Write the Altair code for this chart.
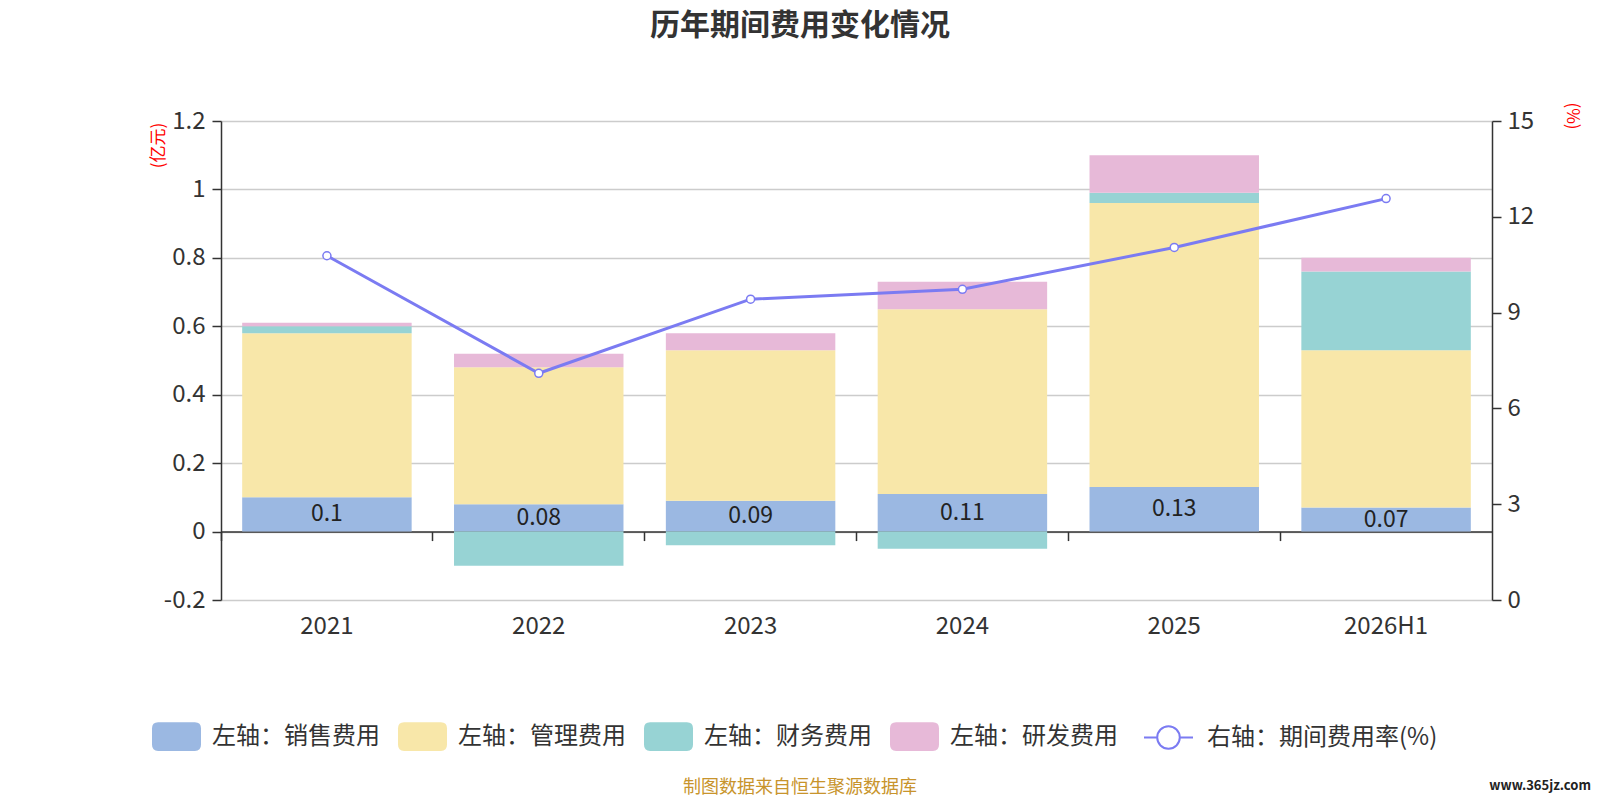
import altair as alt
import pandas as pd

# ---- data ----
years = ["2021", "2022", "2023", "2024", "2025", "2026H1"]
sales = [0.10, 0.08, 0.09, 0.11, 0.13, 0.07]      # 销售费用 (亿元)
mgmt = [0.48, 0.40, 0.44, 0.54, 0.83, 0.46]       # 管理费用
fin = [0.02, -0.10, -0.04, -0.05, 0.03, 0.23]     # 财务费用
rnd = [0.01, 0.04, 0.05, 0.08, 0.11, 0.04]        # 研发费用
rate = [10.78, 7.10, 9.42, 9.73, 11.04, 12.57]    # 期间费用率 (%)

series_names = ["左轴：销售费用", "左轴：管理费用", "左轴：财务费用", "左轴：研发费用"]
series_colors = ["#9BB8E2", "#F8E7A9", "#97D3D4", "#E7B9D8"]
line_name = "右轴：期间费用率(%)"
line_color = "#7B7BF2"

left_ticks = [-0.2, 0, 0.2, 0.4, 0.6, 0.8, 1.0, 1.2]
right_ticks = [0, 3, 6, 9, 12, 15]

title_text = "历年期间费用变化情况"
footer_text = "制图数据来自恒生聚源数据库"
watermark_text = "www.365jz.com"

FONT = "Noto Sans CJK SC"
W, H = 1271, 479
ZERO_OFFSET = -(H - H * 1.2 / 1.4)

rows = []
for i, y in enumerate(years):
    for k, vals in enumerate([sales, mgmt, fin, rnd]):
        rows.append({"year": y, "series": series_names[k], "v": vals[i], "ord": k})
bars_df = pd.DataFrame(rows)
sales_df = pd.DataFrame({"year": years, "v": sales})
line_df = pd.DataFrame({"year": years, "rate": rate, "s": [line_name] * len(years)})

rect_path = ("M-0.75,-0.583 L0.75,-0.583 Q1,-0.583 1,-0.333 L1,0.333 Q1,0.583 0.75,0.583 "
             "L-0.75,0.583 Q-1,0.583 -1,0.333 L-1,-0.333 Q-1,-0.583 -0.75,-0.583 Z")
line_path = ("M-1,0 L-0.46,0 M0.46,0 L1,0 M-0.46,0 A0.46,0.46 0 1,1 0.46,0 "
             "A0.46,0.46 0 1,1 -0.46,0 Z")

xscale = alt.Scale(paddingInner=0, paddingOuter=0)
yleft = alt.Scale(domain=[-0.2, 1.2], nice=False, zero=False)
yright = alt.Scale(domain=[0, 15], nice=False, zero=False)

bars = alt.Chart(bars_df).mark_bar(width=alt.RelativeBandSize(0.8)).encode(
    x=alt.X("year:N", sort=years, scale=xscale,
            axis=alt.Axis(title=None, domain=False, ticks=False, grid=False, labelAngle=0,
                          labelFontSize=24, labelColor="#333", labelPadding=14)),
    y=alt.Y("v:Q", stack="zero", scale=yleft,
            axis=alt.Axis(values=left_ticks, title="(亿元)",
                          labelExpr="replace(format(datum.value, '.1~f'), '\u2212', '-')",
                          labelFontSize=24, labelColor="#333", labelPadding=7,
                          grid=True, gridColor="#cccccc", gridWidth=1.5,
                          domainColor="#333", domainWidth=1.5, tickColor="#333",
                          tickSize=9, tickWidth=1.5,
                          titleColor="red", titleFontSize=17, titleFontWeight="normal",
                          titleAngle=270, titleX=-62.5, titleY=24, titleAlign="center",
                          titleBaseline="middle")),
    fill=alt.Fill("series:N", sort=series_names,
                  scale=alt.Scale(domain=series_names, range=series_colors),
                  legend=alt.Legend(title=None, orient="none", legendX=-69, legendY=591,
                                    direction="horizontal", columns=4, symbolType=rect_path,
                                    symbolSize=2401, symbolStrokeWidth=0,
                                    labelFontSize=24, labelColor="#333", labelOffset=11,
                                    columnPadding=18, labelLimit=300)),
    order=alt.Order("ord:Q"),
)

labels = alt.Chart(sales_df).transform_calculate(mid="datum.v / 2").mark_text(
    fontSize=23, color="#222", baseline="middle", align="center"
).encode(
    x=alt.X("year:N", sort=years, scale=xscale,
            axis=alt.Axis(title=None, orient="bottom", offset=ZERO_OFFSET, labels=False,
                          domain=True, domainColor="#333", domainWidth=1.5,
                          ticks=True, tickColor="#333", tickSize=9, tickWidth=1.5,
                          bandPosition=0, grid=False)),
    y=alt.Y("mid:Q", scale=yleft, axis=None),
    text=alt.Text("v:Q", format="~g"),
)

line = alt.Chart(line_df).mark_line(strokeWidth=3).encode(
    x=alt.X("year:N", sort=years, scale=xscale, axis=None),
    y=alt.Y("rate:Q", scale=yright,
            axis=alt.Axis(orient="right", values=right_ticks, title="(%)", grid=False,
                          labelFontSize=24, labelColor="#333", labelPadding=6,
                          domainColor="#333", domainWidth=1.5, tickColor="#333",
                          tickSize=9, tickWidth=1.5,
                          titleColor="red", titleFontSize=17, titleFontWeight="normal",
                          titleAngle=90, titleX=79, titleY=-5.5, titleAlign="center",
                          titleBaseline="middle")),
    stroke=alt.Stroke("s:N", scale=alt.Scale(domain=[line_name], range=[line_color]),
                      legend=alt.Legend(title=None, orient="none", legendX=922, legendY=591,
                                        symbolType=line_path, symbolSize=2401,
                                        symbolStrokeWidth=2, symbolFillColor="white",
                                        labelFontSize=24, labelColor="#333", labelOffset=13,
                                        labelLimit=300)),
)

points = alt.Chart(line_df).mark_point(filled=True, fill="white", stroke=line_color,
                                        strokeWidth=1.5, size=64, opacity=1).encode(
    x=alt.X("year:N", sort=years, scale=xscale, axis=None),
    y=alt.Y("rate:Q", scale=yright, axis=None),
)

def note(text, x, y, size, color, weight="normal", align="center"):
    return alt.Chart(alt.Data(values=[{"t": text}])).mark_text(
        fontSize=size, color=color, fontWeight=weight, align=align, baseline="middle"
    ).encode(text="t:N", x=alt.value(x), y=alt.value(y))

title = note(title_text, 579, -95, 30, "#333", "bold")
footer = note(footer_text, 579, 667, 18, "#C8942C")
wm = note(watermark_text, 1370, 665, 13, "#222", "bold", align="right")

chart = alt.layer(bars, labels, line, points, title, footer, wm).resolve_scale(
    y="independent"
).resolve_axis(x="independent", y="independent").properties(
    width=W, height=H,
    autosize=alt.AutoSizeParams(type="none"),
    padding={"left": 213, "top": 113, "right": 100, "bottom": 198},
).configure(font=FONT).configure_view(stroke=None)

chart.save("out.html", embed_options={"renderer": "svg", "actions": False})
